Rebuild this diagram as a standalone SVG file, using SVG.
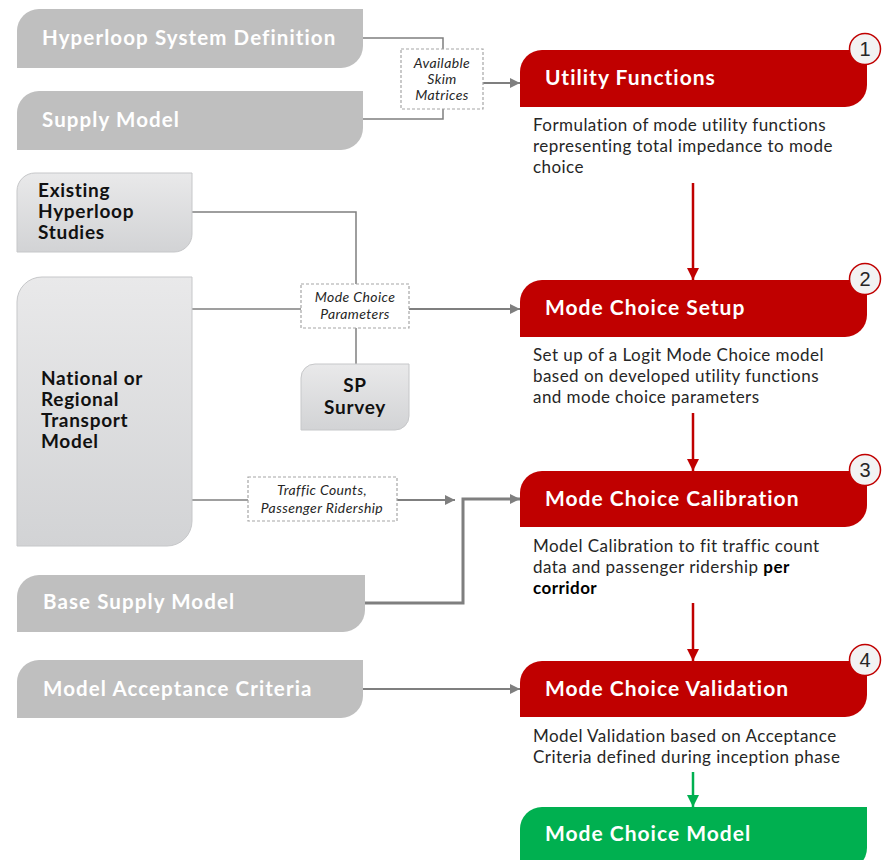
<svg xmlns="http://www.w3.org/2000/svg" width="882" height="860" viewBox="0 0 882 860">
  <defs>
    <linearGradient id="lightFill" x1="0" y1="0" x2="0" y2="1">
      <stop offset="0" stop-color="#e9e9ea"/>
      <stop offset="1" stop-color="#d2d3d5"/>
    </linearGradient>
    <marker id="arrGrey" viewBox="0 0 10 10" refX="10" refY="5" markerWidth="12" markerHeight="10" markerUnits="userSpaceOnUse" orient="auto">
      <path d="M0,0 L10,5 L0,10 Z" fill="#7f7f7f"/>
    </marker>
    <marker id="arrRed" viewBox="0 0 10 10" refX="10" refY="5" markerWidth="12" markerHeight="12" markerUnits="userSpaceOnUse" orient="auto">
      <path d="M0,0 L10,5 L0,10 Z" fill="#c00000"/>
    </marker>
    <marker id="arrGreen" viewBox="0 0 10 10" refX="10" refY="5" markerWidth="12" markerHeight="12" markerUnits="userSpaceOnUse" orient="auto">
      <path d="M0,0 L10,5 L0,10 Z" fill="#00b050"/>
    </marker>
  </defs>
  <style>
    .src { fill: #bfbfbf; }
    .srcText { font-family: Lato, "Open Sans", sans-serif; font-weight: bold; font-size: 20.5px; letter-spacing: 1.1px; fill: #ffffff; }
    .lite { fill: url(#lightFill); stroke: #c6c7c9; stroke-width: 1; }
    .liteText { font-family: Lato, "Open Sans", sans-serif; font-weight: bold; font-size: 19px; letter-spacing: 0.7px; fill: #111111; }
    .step { fill: #c00000; }
    .final { fill: #00b050; }
    .stepText { font-family: Lato, "Open Sans", sans-serif; font-weight: bold; font-size: 21px; letter-spacing: 1px; fill: #ffffff; }
    .desc { font-family: Lato, "Open Sans", sans-serif; font-size: 17px; letter-spacing: 0.45px; fill: #262626; }
    .badge { fill: #f2f2f2; stroke: #c00000; stroke-width: 1.5; }
    .badgeText { font-family: "Liberation Sans", Arial, sans-serif; font-size: 20px; fill: #262626; text-anchor: middle; }
    .line { fill: none; stroke: #7f7f7f; stroke-width: 1.5; }
    .thick { fill: none; stroke: #7f7f7f; stroke-width: 3; }
    .redLine { fill: none; stroke: #c00000; stroke-width: 2.5; }
    .greenLine { fill: none; stroke: #00b050; stroke-width: 2.5; }
    .dash { fill: #ffffff; stroke: #a6a6a6; stroke-width: 1.2; stroke-dasharray: 3 2; }
    .lbl { font-family: Lato, "Open Sans", sans-serif; font-style: italic; font-size: 14px; letter-spacing: 0.4px; fill: #262626; text-anchor: middle; }
  </style>

  <!-- connectors -->
  <g id="connectors">
    <!-- skim matrices -->
    <path class="line" d="M363,38 H443 V49"/>
    <path class="line" d="M363,119 H443 V109"/>
    <path class="line" d="M483,83 H520" marker-end="url(#arrGrey)" style="stroke-width:2"/>
    <rect class="dash" x="401" y="49" width="82" height="60"/>
    <text class="lbl"><tspan x="442" y="68">Available</tspan><tspan x="442" y="84">Skim</tspan><tspan x="442" y="100">Matrices</tspan></text>

    <!-- mode choice parameters -->
    <path class="line" d="M192,212 H356 V284"/>
    <path class="line" d="M192,309 H301"/>
    <path class="line" d="M356,328 V364"/>
    <path class="line" d="M409,309 H520" marker-end="url(#arrGrey)" style="stroke-width:2"/>
    <rect class="dash" x="301" y="284" width="108" height="44"/>
    <text class="lbl"><tspan x="355" y="302">Mode Choice</tspan><tspan x="355" y="319">Parameters</tspan></text>

    <!-- traffic counts -->
    <path class="line" d="M192,500 H248"/>
    <path class="line" d="M397,500 H455" marker-end="url(#arrGrey)" style="stroke-width:2"/>
    <rect class="dash" x="248" y="477" width="149" height="44"/>
    <text class="lbl"><tspan x="322" y="495">Traffic Counts,</tspan><tspan x="322" y="513">Passenger Ridership</tspan></text>

    <!-- base supply model -->
    <path class="thick" d="M365,603 H463 V499 H520" marker-end="url(#arrGrey)"/>

    <!-- acceptance criteria -->
    <path class="line" d="M363,689 H520" marker-end="url(#arrGrey)" style="stroke-width:2"/>

    <!-- step sequence -->
    <path class="redLine" d="M693,183 V280" marker-end="url(#arrRed)"/>
    <path class="redLine" d="M693,413 V471" marker-end="url(#arrRed)"/>
    <path class="redLine" d="M693,603 V661" marker-end="url(#arrRed)"/>
    <path class="greenLine" d="M693,772 V807" marker-end="url(#arrGreen)"/>
  </g>

  <!-- source nodes -->
  <g id="hyperloop-system-definition">
    <path class="src" d="M17,68 V31 A22,22 0 0 1 39,9 H363 V46 A22,22 0 0 1 341,68 Z"/>
    <text class="srcText" x="42" y="45">Hyperloop System Definition</text>
  </g>
  <g id="supply-model">
    <path class="src" d="M17,150 V113 A22,22 0 0 1 39,91 H363 V128 A22,22 0 0 1 341,150 Z"/>
    <text class="srcText" x="42" y="127">Supply Model</text>
  </g>
  <g id="existing-hyperloop-studies">
    <path class="lite" d="M17,252 V191 A18,18 0 0 1 35,173 H192 V234 A18,18 0 0 1 174,252 Z"/>
    <text class="liteText"><tspan x="38" y="197">Existing</tspan><tspan x="38" y="218">Hyperloop</tspan><tspan x="38" y="239">Studies</tspan></text>
  </g>
  <g id="national-regional-transport-model">
    <path class="lite" d="M17,546 V302 A25,25 0 0 1 42,277 H192 V521 A25,25 0 0 1 167,546 Z"/>
    <text class="liteText"><tspan x="41" y="385">National or</tspan><tspan x="41" y="406">Regional</tspan><tspan x="41" y="427">Transport</tspan><tspan x="41" y="448">Model</tspan></text>
  </g>
  <g id="sp-survey">
    <path class="lite" d="M301,430 V378 A14,14 0 0 1 315,364 H409 V416 A14,14 0 0 1 395,430 Z"/>
    <text class="liteText" text-anchor="middle"><tspan x="355" y="392">SP</tspan><tspan x="355" y="414">Survey</tspan></text>
  </g>
  <g id="base-supply-model">
    <path class="src" d="M17,632 V597 A22,22 0 0 1 39,575 H365 V610 A22,22 0 0 1 343,632 Z"/>
    <text class="srcText" x="43" y="609">Base Supply Model</text>
  </g>
  <g id="model-acceptance-criteria">
    <path class="src" d="M17,718 V682 A22,22 0 0 1 39,660 H363 V696 A22,22 0 0 1 341,718 Z"/>
    <text class="srcText" x="43" y="696">Model Acceptance Criteria</text>
  </g>

  <!-- process steps -->
  <g id="utility-functions">
    <path class="step" d="M520,107 V72 A22,22 0 0 1 542,50 H867 V85 A22,22 0 0 1 845,107 Z"/>
    <text class="stepText" x="545" y="85">Utility Functions</text>
    <circle class="badge" cx="865" cy="49" r="15.5"/>
    <text class="badgeText" x="865" y="56">1</text>
    <text class="desc"><tspan x="533" y="131">Formulation of mode utility functions</tspan><tspan x="533" y="152">representing total impedance to mode</tspan><tspan x="533" y="173">choice</tspan></text>
  </g>
  <g id="mode-choice-setup">
    <path class="step" d="M520,337 V302 A22,22 0 0 1 542,280 H867 V315 A22,22 0 0 1 845,337 Z"/>
    <text class="stepText" x="545" y="315">Mode Choice Setup</text>
    <circle class="badge" cx="865" cy="279" r="15.5"/>
    <text class="badgeText" x="865" y="286">2</text>
    <text class="desc"><tspan x="533" y="361">Set up of a Logit Mode Choice model</tspan><tspan x="533" y="382">based on developed utility functions</tspan><tspan x="533" y="403">and mode choice parameters</tspan></text>
  </g>
  <g id="mode-choice-calibration">
    <path class="step" d="M520,527 V493 A22,22 0 0 1 542,471 H867 V505 A22,22 0 0 1 845,527 Z"/>
    <text class="stepText" x="545" y="506">Mode Choice Calibration</text>
    <circle class="badge" cx="865" cy="470" r="15.5"/>
    <text class="badgeText" x="865" y="477">3</text>
    <text class="desc"><tspan x="533" y="552">Model Calibration to fit traffic count</tspan><tspan x="533" y="573">data and passenger ridership <tspan font-weight="bold" fill="#000">per</tspan></tspan><tspan x="533" y="594" font-weight="bold" fill="#000">corridor</tspan></text>
  </g>
  <g id="mode-choice-validation">
    <path class="step" d="M520,717 V683 A22,22 0 0 1 542,661 H867 V695 A22,22 0 0 1 845,717 Z"/>
    <text class="stepText" x="545" y="696">Mode Choice Validation</text>
    <circle class="badge" cx="865" cy="660" r="15.5"/>
    <text class="badgeText" x="865" y="667">4</text>
    <text class="desc"><tspan x="533" y="742">Model Validation based on Acceptance</tspan><tspan x="533" y="763">Criteria defined during inception phase</tspan></text>
  </g>
  <g id="mode-choice-model">
    <path class="final" d="M520,870 V829 A22,22 0 0 1 542,807 H867 V848 A22,22 0 0 1 845,870 Z"/>
    <text class="stepText" x="545" y="841">Mode Choice Model</text>
  </g>
</svg>
